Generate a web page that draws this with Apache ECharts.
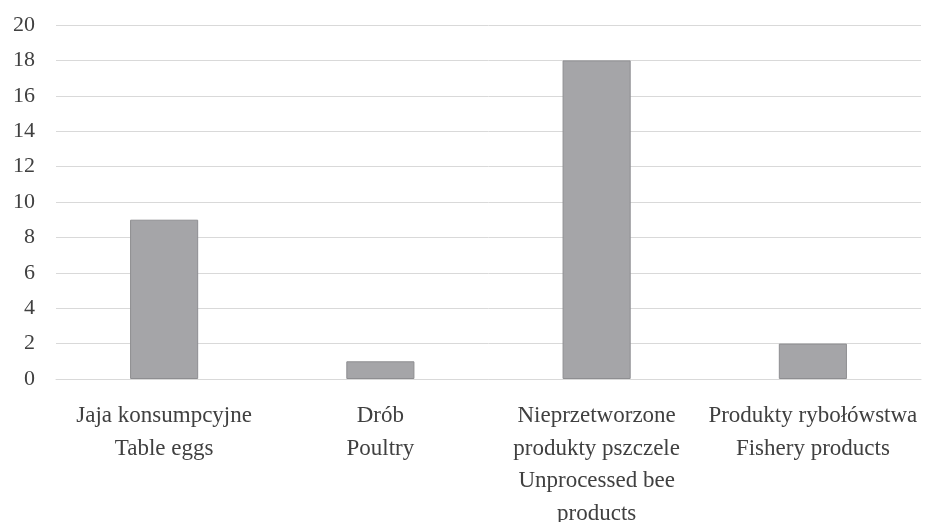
<!DOCTYPE html>
<html>
<head>
<meta charset="utf-8">
<script src="https://cdn.jsdelivr.net/npm/echarts@6/dist/echarts.min.js"></script>
<style>
  html, body { margin: 0; padding: 0; background: #ffffff; }
  #chart { width: 929px; height: 522px; }
</style>
</head>
<body>
<div id="chart"></div>
<script>
// Product categories (Polish / English) and their counts
const categories = [
  'Jaja konsumpcyjne\nTable eggs',
  'Drób\nPoultry',
  'Nieprzetworzone\nprodukty pszczele\nUnprocessed bee\nproducts',
  'Produkty rybołówstwa\nFishery products'
];
const counts = [9, 1, 18, 2];
const yMin = 0;
const yMax = 20;
const yStep = 2;

const chart = echarts.init(document.getElementById('chart'));
const textColor = '#404040';
const fontFamily = '"Liberation Serif", "Times New Roman", serif';

chart.setOption({
  animation: false,
  grid: {
    left: 56, right: 8, top: 25, bottom: 143,
    containLabel: false,
    outerBoundsMode: 'none'
  },
  xAxis: {
    type: 'category',
    data: categories,
    axisLine: { show: true, lineStyle: { color: '#d9d9d9', width: 1 } },
    axisTick: { show: false },
    axisLabel: {
      interval: 0,
      margin: 21,
      color: textColor,
      fontFamily: fontFamily,
      fontSize: 23,
      lineHeight: 32.5,
      align: 'center'
    }
  },
  yAxis: {
    type: 'value',
    min: yMin,
    max: yMax,
    interval: yStep,
    axisLine: { show: false },
    axisTick: { show: false },
    splitLine: { show: true, lineStyle: { color: '#d9d9d9', width: 1 } },
    axisLabel: {
      margin: 21,
      color: textColor,
      fontFamily: fontFamily,
      fontSize: 22
    }
  },
  series: [{
    type: 'bar',
    data: counts,
    barWidth: '31.5%',
    itemStyle: {
      color: '#a5a5a8',
      borderColor: '#8e8e91',
      borderWidth: 1
    }
  }]
});
</script>
</body>
</html>
